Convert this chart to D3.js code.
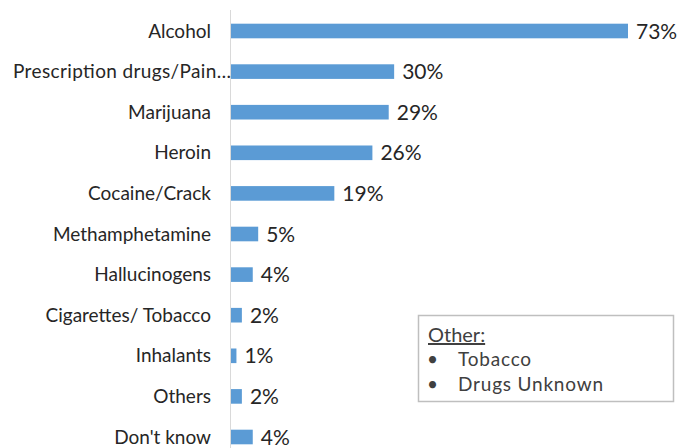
<!DOCTYPE html>
<html><head><meta charset="utf-8">
<script src="https://cdn.jsdelivr.net/npm/d3@7"></script>
<style>body{margin:0;background:#fff;} svg{display:block;}</style>
</head><body>
<svg id="chart" width="687" height="448"></svg>
<script>
const categories = ["Alcohol","Prescription drugs/Pain…","Marijuana","Heroin","Cocaine/Crack","Methamphetamine","Hallucinogens","Cigarettes/ Tobacco","Inhalants","Others","Don't know"];
const values = [73,30,29,26,19,5,4,2,1,2,4];
const legendTitle = "Other:";
const legendItems = ["Tobacco","Drugs Unknown"];

const svg = d3.select("#chart");
const font = "Lato, 'Open Sans', sans-serif";
const x = d3.scaleLinear().domain([0,73]).range([231,628]);
const y = d3.scaleBand().domain(categories).range([10.7,457.3]).paddingInner(0.64).paddingOuter(0.32);

// axis line
svg.append("line").attr("x1",230.5).attr("x2",230.5).attr("y1",10).attr("y2",448)
  .attr("stroke","#d9d9d9").attr("stroke-width",1);

svg.selectAll("rect.bar").data(values).enter().append("rect").attr("class","bar")
  .attr("x",x(0)).attr("y",(d,i)=>y(categories[i]))
  .attr("width",d=>x(d)-x(0)).attr("height",y.bandwidth())
  .attr("fill","#5b9bd5");

svg.selectAll("text.cat").data(categories).enter().append("text").attr("class","cat")
  .attr("x",(d,i)=> i===1 ? 231 : 211).attr("y",d=>y(d)+y.bandwidth()/2)
  .attr("dy","0.35em").attr("text-anchor","end")
  .attr("font-family",font).attr("font-size",19).attr("fill","#262626")
  .attr("textLength",(d,i)=> i===1 ? 218 : null)
  .text(d=>d);

svg.selectAll("text.val").data(values).enter().append("text").attr("class","val")
  .attr("x",d=>x(d)+8).attr("y",(d,i)=>y(categories[i])+y.bandwidth()/2)
  .attr("dy","0.36em").attr("font-family",font).attr("font-size",21).attr("fill","#262626")
  .text(d=>d+"%");

// legend box
const lg = svg.append("g");
lg.append("rect").attr("x",418.5).attr("y",315.5).attr("width",255).attr("height",86)
  .attr("fill","#fff").attr("stroke","#bfbfbf").attr("stroke-width",1.5);
lg.append("text").attr("x",428).attr("y",342).attr("font-family",font).attr("font-size",20)
  .attr("fill","#404040").attr("text-decoration","underline").text(legendTitle);
legendItems.forEach((t,i)=>{
  lg.append("text").attr("x",427).attr("y",366+i*25).attr("font-family",font).attr("font-size",19)
    .attr("fill","#404040").text("•");
  lg.append("text").attr("x",458).attr("y",366+i*25).attr("font-family",font).attr("font-size",19)
    .attr("fill","#404040").attr("letter-spacing","0.8").text(t);
});
</script>
</body></html>
